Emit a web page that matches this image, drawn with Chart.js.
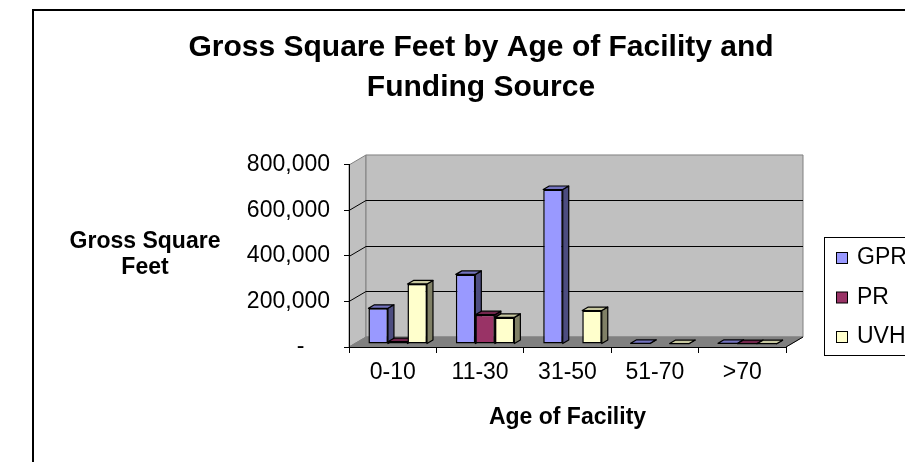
<!DOCTYPE html>
<html lang="en">
<head>
<meta charset="UTF-8">
<title>Gross Square Feet by Age of Facility and Funding Source</title>
<style>
    body {
        margin: 0;
        background: #fff;
    }

    canvas {
        display: block;
    }
</style>
</head>
<body>
<canvas id="myCanvas" width="905" height="462"></canvas>
<script src="https://cdn.jsdelivr.net/npm/chart.js@4/dist/chart.umd.min.js"></script>
<script>
    const ageGroups = ['0-10', '11-30', '31-50', '51-70', '>70'];
    const seriesNames = ['GPR', 'PR', 'UVH'];
    const gprValues = [157000, 306000, 679000, 3000, 3000];
    const prValues = [10000, 129000, 0, 0, 2000];
    const uvhValues = [264000, 117000, 147000, 2000, 1500];
    const yTicks = [0, 200000, 400000, 600000, 800000];

    const FONT = "'Liberation Sans', Arial, sans-serif";
    const frontColors = ['#9999FF', '#993366', '#FFFFCC'];
    const topColors = ['#7373BF', '#73264D', '#C8C8A0'];
    const sideColors = ['#4D4D80', '#4D1A33', '#808066'];

    // fake 3d: back wall offset and bar depth
    const WALL_DX = 17, WALL_DY = -10;
    const BAR_SHIFT_X = 5, BAR_SHIFT_Y = -3;
    const BAR_DX = 6, BAR_DY = -3.5;

    function poly(ctx, pts, fill) {
        ctx.beginPath();
        ctx.moveTo(pts[0][0], pts[0][1]);
        for (let i = 1; i < pts.length; i++) ctx.lineTo(pts[i][0], pts[i][1]);
        ctx.closePath();
        ctx.fillStyle = fill;
        ctx.fill();
        ctx.stroke();
    }

    const wallsPlugin = {
        id: 'walls',
        beforeDraw(chart) {
            const { ctx, chartArea: a, scales: { y } } = chart;
            const y0 = y.getPixelForValue(yTicks[0]);
            const yTop = y.getPixelForValue(yTicks[yTicks.length - 1]);
            ctx.save();
            // outer frame
            ctx.strokeStyle = '#000';
            ctx.lineWidth = 2;
            ctx.strokeRect(33, 10, chart.width, chart.height);

            ctx.lineWidth = 1;
            ctx.strokeStyle = '#808080';
            // left wall
            poly(ctx, [[a.left, y0], [a.left, yTop], [a.left + WALL_DX, yTop + WALL_DY], [a.left + WALL_DX, y0 + WALL_DY]], '#C0C0C0');
            // back wall
            poly(ctx, [[a.left + WALL_DX, yTop + WALL_DY], [a.right + WALL_DX, yTop + WALL_DY], [a.right + WALL_DX, y0 + WALL_DY], [a.left + WALL_DX, y0 + WALL_DY]], '#C0C0C0');
            // floor
            poly(ctx, [[a.left, y0], [a.left + WALL_DX, y0 + WALL_DY], [a.right + WALL_DX, y0 + WALL_DY], [a.right, y0]], '#808080');
            ctx.strokeStyle = '#000';
            ctx.beginPath();
            ctx.moveTo(a.right, y0);
            ctx.lineTo(a.right + WALL_DX, y0 + WALL_DY);
            ctx.stroke();

            // gridlines on the walls
            yTicks.slice(1, -1).forEach(v => {
                const py = Math.round(y.getPixelForValue(v)) + 0.5;
                ctx.beginPath();
                ctx.moveTo(a.left, py);
                ctx.lineTo(a.left + WALL_DX, py + WALL_DY);
                ctx.lineTo(a.right + WALL_DX, py + WALL_DY);
                ctx.stroke();
            });
            ctx.restore();
        }
    };

    const barsPlugin = {
        id: 'bars3d',
        beforeDatasetDraw() {
            return false; // drawn below, in our own order
        },
        afterDatasetsDraw(chart) {
            const ctx = chart.ctx;
            ctx.save();
            ctx.translate(BAR_SHIFT_X, BAR_SHIFT_Y);
            ctx.strokeStyle = '#000';
            ctx.lineWidth = 1.2;
            ctx.lineJoin = 'round';
            ageGroups.forEach((_, i) => {
                chart.data.datasets.forEach((ds, d) => {
                    if (!ds.data[i]) return;
                    const bar = chart.getDatasetMeta(d).data[i];
                    const { x, y, base, width } = bar.getProps(['x', 'y', 'base', 'width'], true);
                    const l = x - width / 2, r = x + width / 2;
                    poly(ctx, [[r, y], [r + BAR_DX, y + BAR_DY], [r + BAR_DX, base + BAR_DY], [r, base]], sideColors[d]);
                    poly(ctx, [[l, y], [l + BAR_DX, y + BAR_DY], [r + BAR_DX, y + BAR_DY], [r, y]], topColors[d]);
                    bar.draw(ctx);
                });
            });
            ctx.restore();
        }
    };

    const extrasPlugin = {
        id: 'extras',
        afterDraw(chart) {
            const ctx = chart.ctx;
            ctx.save();
            ctx.fillStyle = '#000';
            ctx.textAlign = 'center';
            ctx.textBaseline = 'middle';
            ctx.font = 'bold 23px ' + FONT;
            ctx.fillText('Gross Square', 145, 241.5);
            ctx.fillText('Feet', 145, 267.5);

            // legend
            ctx.fillStyle = '#fff';
            ctx.fillRect(824.5, 237.5, 120, 118);
            ctx.strokeStyle = '#000';
            ctx.lineWidth = 1;
            ctx.strokeRect(824.5, 237.5, 120, 118);
            ctx.font = '23px ' + FONT;
            ctx.textAlign = 'left';
            const rows = [258, 297.5, 337];
            seriesNames.forEach((name, d) => {
                ctx.fillStyle = frontColors[d];
                ctx.fillRect(836.5, rows[d] - 5.5, 11, 11);
                ctx.strokeRect(836.5, rows[d] - 5.5, 11, 11);
                ctx.fillStyle = '#000';
                ctx.fillText(name, 857, rows[d]);
            });
            ctx.restore();
        }
    };

    Chart.defaults.color = '#000';

    new Chart(document.getElementById('myCanvas'), {
        type: 'bar',
        data: {
            labels: ageGroups,
            datasets: [gprValues, prValues, uvhValues].map((vals, d) => ({
                label: seriesNames[d],
                data: vals,
                backgroundColor: frontColors[d],
                borderColor: '#000',
                borderWidth: 1.5,
                borderSkipped: false
            }))
        },
        options: {
            responsive: false,
            animation: false,
            events: [],
            categoryPercentage: 0.67,
            barPercentage: 1,
            layout: {
                padding: { left: 176, right: 119, top: 0, bottom: 0 }
            },
            plugins: {
                legend: { display: false },
                tooltip: { enabled: false },
                title: {
                    display: true,
                    text: ['Gross Square Feet by Age of Facility and', 'Funding Source'],
                    color: '#000',
                    font: { family: FONT, size: 30, weight: 'bold', lineHeight: 1.333 },
                    padding: { top: 28, bottom: 57 }
                }
            },
            scales: {
                x: {
                    grid: { drawOnChartArea: false, tickLength: 6, color: '#000' },
                    border: { color: '#000' },
                    ticks: { color: '#000', padding: 6, font: { family: FONT, size: 23 } },
                    title: {
                        display: true,
                        text: 'Age of Facility',
                        color: '#000',
                        font: { family: FONT, size: 23, weight: 'bold' },
                        padding: { top: 0, bottom: 31 }
                    },
                    afterFit(scale) {
                        scale.height = 115;
                    }
                },
                y: {
                    min: 0,
                    max: 800000,
                    grid: { drawOnChartArea: false, tickLength: 5, color: '#000' },
                    border: { color: '#000' },
                    ticks: {
                        color: '#000',
                        padding: 14,
                        font: { family: FONT, size: 23 },
                        callback: v => v === 0 ? '-    ' : v.toLocaleString('en-US')
                    },
                    afterBuildTicks(scale) {
                        scale.ticks = yTicks.map(v => ({ value: v }));
                    },
                    afterFit(scale) {
                        scale.width = 173;
                    }
                }
            }
        },
        plugins: [wallsPlugin, barsPlugin, extrasPlugin]
    });
</script>
</body>
</html>
